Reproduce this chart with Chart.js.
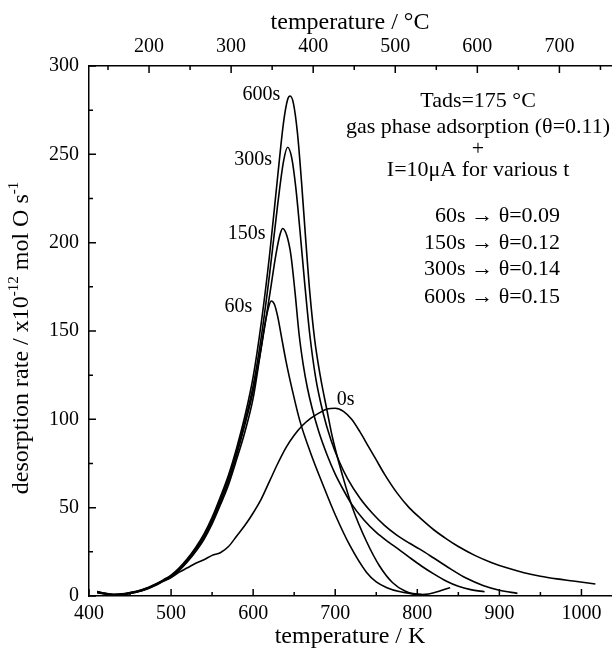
<!DOCTYPE html>
<html>
<head>
<meta charset="utf-8">
<script src="https://cdn.jsdelivr.net/npm/chart.js@4.4.0/dist/chart.umd.min.js"></script>
<style>
    html, body { margin: 0; padding: 0; background: #fff; }
    #tpd_chart { display: block; }
</style>
</head>
<body>
<canvas id="tpd_chart" width="612" height="652"></canvas>
<script>
//-------------------------------------------------------------------------//
//------------------------------- Data ------------------------------------//
//-------------------------------------------------------------------------//
// temperature / K  and  desorption rate / x10^-12 mol O s^-1
var k_0s = [410, 420, 430, 440, 450, 460, 470, 480, 490, 500, 510, 520, 530, 540, 550, 560, 570, 580, 590, 600,
    610, 620, 630, 640, 650, 660, 670, 680, 690, 700, 710, 720, 730, 740, 750, 760, 775, 790, 805, 820,
    835, 850, 870, 890, 910, 930, 950, 970, 990, 1017];
var rate_0s = [2.5, 1.5, 1, 1.2, 2, 3, 4.5, 6.5, 8.5, 10.5, 13.5, 16, 18.5, 20.5, 23, 24.5, 28, 34, 40, 47,
    55, 65, 75, 84, 91, 96.5, 100.5, 103.5, 105.8, 106.3, 104.5, 100, 93, 85, 77, 69, 58.5, 50, 43.5, 37.5,
    32.5, 28, 23, 19, 15.8, 13.2, 11.2, 9.7, 8.5, 6.8];

var k_60s = [410, 420, 430, 440, 450, 460, 470, 480, 490, 500, 510, 520, 530, 540, 550, 560, 570, 580, 590, 600,
    608, 614, 618, 622, 626, 630, 634, 640, 648, 657, 670, 685, 700, 718, 738, 750, 763, 778, 791, 805];
var rate_60s = [1.8, 1.1, 0.5, 0.7, 1.4, 2.4, 3.8, 5.8, 8.2, 10.6, 14.5, 19.4, 25.2, 32, 40.8, 51.5, 63, 77.5, 93, 112,
    135, 153, 162, 167, 165, 158, 148, 133, 116, 99, 81, 63, 46, 28.5, 13.5, 8, 4.7, 2.5, 1.5, 1];

var k_150s = [410, 420, 430, 440, 450, 460, 470, 480, 490, 500, 510, 520, 530, 540, 550, 560, 570, 580, 590, 600,
    610, 620, 628, 633, 636, 641, 646, 651, 656, 661, 666, 672, 680, 690, 700, 710, 720, 735, 750, 765,
    777, 790, 805, 820, 835, 850, 865, 882];
var rate_150s = [2, 1.2, 0.6, 0.8, 1.5, 2.5, 4, 6, 8.5, 11, 15, 20, 26, 33, 42, 53, 65, 80, 97, 116,
    141, 170, 194, 205, 208, 204, 193, 172, 148, 131, 118, 106, 93, 80, 69, 60, 52, 43, 36, 30.5,
    26.5, 22, 17, 12.5, 8.5, 5.5, 3.6, 2.4];

var k_300s = [410, 420, 430, 440, 450, 460, 470, 480, 490, 500, 510, 520, 530, 540, 550, 560, 570, 580, 590, 600,
    610, 620, 630, 637, 642, 647, 652, 657, 663, 669, 676, 685, 695, 705, 715, 730, 745, 760, 775, 790,
    803, 820, 840, 860, 880, 900, 922];
var rate_300s = [2.2, 1.3, 0.7, 0.9, 1.6, 2.6, 4.1, 6.2, 8.7, 11.4, 15.5, 20.6, 26.8, 34, 43.2, 54.5, 66.8, 82, 99, 119,
    147, 182, 222, 246, 254, 248, 231, 207, 176, 148, 124, 104, 88, 76, 66.5, 55.5, 47, 40, 34.5, 30,
    26.5, 21.5, 15.5, 10, 6, 3.3, 1.5];

var k_600s = [410, 420, 430, 440, 450, 460, 470, 480, 490, 500, 510, 520, 530, 540, 550, 560, 570, 580, 590, 600,
    610, 620, 630, 637, 642, 645, 649, 654, 659, 664, 669, 675, 682, 690, 697, 709, 721, 738, 754, 770,
    785, 800, 810, 820, 830, 840];
var rate_600s = [2.5, 1.5, 0.8, 1, 1.8, 2.8, 4.3, 6.4, 9, 11.8, 16, 21.2, 27.5, 35, 44.5, 56, 68.5, 84, 102, 124,
    155, 193, 238, 268, 281, 283, 279, 262, 234, 202, 172, 145, 124, 105, 89, 68, 50, 31, 17, 7.5,
    2.8, 0.8, 0.9, 1.8, 3.2, 4.7];

// axis ranges and ticks
var k_min = 400;
var k_max = 1036;
var k_ticks = [400, 500, 600, 700, 800, 900, 1000];
var k_minor = [450, 550, 650, 750, 850, 950];
var c_ticks = [200, 300, 400, 500, 600, 700];
var c_minor = [150, 250, 350, 450, 550, 650, 750];
var rate_ticks = [0, 50, 100, 150, 200, 250, 300];
var rate_minor = [25, 75, 125, 175, 225, 275];

// curve labels (anchor in K / rate)
var curve_names = ['0s', '60s', '150s', '300s', '600s'];
var curve_label_k = [702, 599, 615, 623, 633];
var curve_label_rate = [111, 164, 205, 247, 284];

// annotation text
var note_lines = ['Tads=175 °C', 'gas phase adsorption (θ=0.11)', '+', 'I=10μA for various t'];
var note_rate = [280, 265.6, 253, 241];
var note_k = 874;
var cover_lines = ['60s → θ=0.09', '150s → θ=0.12', '300s → θ=0.14', '600s → θ=0.15'];
var cover_rate = [214.7, 199.9, 184.9, 169.4];
var cover_k = 974;

//-------------------------------------------------------------------------//
//------------------------------ Helpers ----------------------------------//
//-------------------------------------------------------------------------//
var SERIF = "'Liberation Serif', 'Times New Roman', serif";

function toPoints(xs, ys) {
    var pts = [];
    for (var i = 0; i < xs.length; i++) {
        pts.push({ x: xs[i], y: ys[i] });
    }
    return pts;
}

function curve(name, xs, ys) {
    return {
        label: name,
        data: toPoints(xs, ys),
        borderColor: '#000',
        borderWidth: 1.6,
        pointRadius: 0,
        fill: false,
        cubicInterpolationMode: 'monotone'
    };
}

function fixTicks(list) {
    return function (scale) {
        scale.ticks = list.map(function (v) { return { value: v }; });
    };
}

function plainLabel(v) {
    return String(v);
}

// inward tick marks on all three axes
var inwardTicks = {
    id: 'inwardTicks',
    afterDraw: function (chart) {
        var ctx = chart.ctx;
        var a = chart.chartArea;
        var s = chart.scales;
        ctx.save();
        ctx.strokeStyle = '#000';
        ctx.lineWidth = 1.5;
        ctx.beginPath();
        function xMark(scale, v, y0, len) {
            var px = scale.getPixelForValue(v);
            ctx.moveTo(px, y0);
            ctx.lineTo(px, y0 + len);
        }
        k_ticks.forEach(function (v) { xMark(s.x, v, a.bottom, -7); });
        k_minor.forEach(function (v) { xMark(s.x, v, a.bottom, -4); });
        c_ticks.forEach(function (v) { xMark(s.xC, v, a.top, 7); });
        c_minor.forEach(function (v) { xMark(s.xC, v, a.top, 4); });
        rate_ticks.forEach(function (v) {
            var py = s.y.getPixelForValue(v);
            ctx.moveTo(a.left, py); ctx.lineTo(a.left + 7, py);
        });
        rate_minor.forEach(function (v) {
            var py = s.y.getPixelForValue(v);
            ctx.moveTo(a.left, py); ctx.lineTo(a.left + 4, py);
        });
        ctx.stroke();
        ctx.restore();
    }
};

// texts: y title with superscripts, curve labels, annotation
var chartTexts = {
    id: 'chartTexts',
    afterDraw: function (chart) {
        var ctx = chart.ctx;
        var s = chart.scales;
        ctx.save();
        ctx.fillStyle = '#000';
        ctx.textBaseline = 'middle';

        // y axis title
        var parts = [
            { t: 'desorption rate / x10', sup: false },
            { t: '-12', sup: true },
            { t: ' mol O s', sup: false },
            { t: '-1', sup: true }
        ];
        var big = '24px ' + SERIF, small = '15px ' + SERIF;
        var total = 0;
        parts.forEach(function (p) {
            ctx.font = p.sup ? small : big;
            p.w = ctx.measureText(p.t).width;
            total += p.w;
        });
        ctx.translate(22, 338);
        ctx.rotate(-Math.PI / 2);
        ctx.textAlign = 'left';
        var cx = -total / 2;
        parts.forEach(function (p) {
            ctx.font = p.sup ? small : big;
            ctx.fillText(p.t, cx, p.sup ? -8 : 0);
            cx += p.w;
        });
        ctx.setTransform(1, 0, 0, 1, 0, 0);

        // curve labels
        ctx.font = '20px ' + SERIF;
        curve_names.forEach(function (n, i) {
            ctx.textAlign = (n === '0s') ? 'left' : 'right';
            ctx.fillText(n, s.x.getPixelForValue(curve_label_k[i]), s.y.getPixelForValue(curve_label_rate[i]));
        });

        // annotation block
        ctx.font = '22px ' + SERIF;
        ctx.textAlign = 'center';
        note_lines.forEach(function (t, i) {
            ctx.fillText(t, s.x.getPixelForValue(note_k), s.y.getPixelForValue(note_rate[i]));
        });
        ctx.textAlign = 'right';
        cover_lines.forEach(function (t, i) {
            ctx.fillText(t, s.x.getPixelForValue(cover_k), s.y.getPixelForValue(cover_rate[i]));
        });
        ctx.restore();
    }
};

//-------------------------------------------------------------------------//
//------------------------------- Chart -----------------------------------//
//-------------------------------------------------------------------------//
var tickFont = { family: SERIF, size: 20 };
var titleFont = { family: SERIF, size: 24 };

var tpd_config = {
    type: 'line',
    data: {
        datasets: [
            curve('0s', k_0s, rate_0s),
            curve('60s', k_60s, rate_60s),
            curve('150s', k_150s, rate_150s),
            curve('300s', k_300s, rate_300s),
            curve('600s', k_600s, rate_600s)
        ]
    },
    options: {
        responsive: false,
        animation: false,
        layout: { padding: { left: 0, right: 1, top: 0, bottom: 0 } },
        plugins: {
            legend: { display: false },
            tooltip: { enabled: false }
        },
        scales: {
            x: {
                type: 'linear',
                position: 'bottom',
                min: k_min,
                max: k_max,
                afterBuildTicks: fixTicks(k_ticks),
                afterFit: function (scale) { scale.height = 56; },
                grid: { display: false, drawTicks: false },
                border: { display: true, color: '#000', width: 1.5 },
                ticks: { color: '#000', font: tickFont, padding: 6, maxRotation: 0, callback: plainLabel },
                title: { display: true, text: 'temperature / K', color: '#000', font: titleFont, padding: { top: 0, bottom: 1 } }
            },
            xC: {
                type: 'linear',
                axis: 'x',
                position: 'top',
                min: k_min - 273.15,
                max: k_max - 273.15,
                afterBuildTicks: fixTicks(c_ticks),
                afterFit: function (scale) { scale.height = 66; },
                grid: { display: false, drawTicks: false },
                border: { display: true, color: '#000', width: 1.5 },
                ticks: { color: '#000', font: tickFont, padding: 7, maxRotation: 0, callback: plainLabel },
                title: { display: true, text: 'temperature / °C', color: '#000', font: titleFont, padding: { top: 8, bottom: 0 } }
            },
            y: {
                type: 'linear',
                position: 'left',
                min: 0,
                max: 300,
                afterBuildTicks: fixTicks(rate_ticks),
                afterFit: function (scale) { scale.width = 89; },
                grid: { display: false, drawTicks: false },
                border: { display: true, color: '#000', width: 1.5 },
                ticks: { color: '#000', font: tickFont, padding: 10, callback: plainLabel }
            }
        }
    },
    plugins: [inwardTicks, chartTexts]
};

var tpd_chart = new Chart(document.getElementById('tpd_chart'), tpd_config);
</script>
</body>
</html>
